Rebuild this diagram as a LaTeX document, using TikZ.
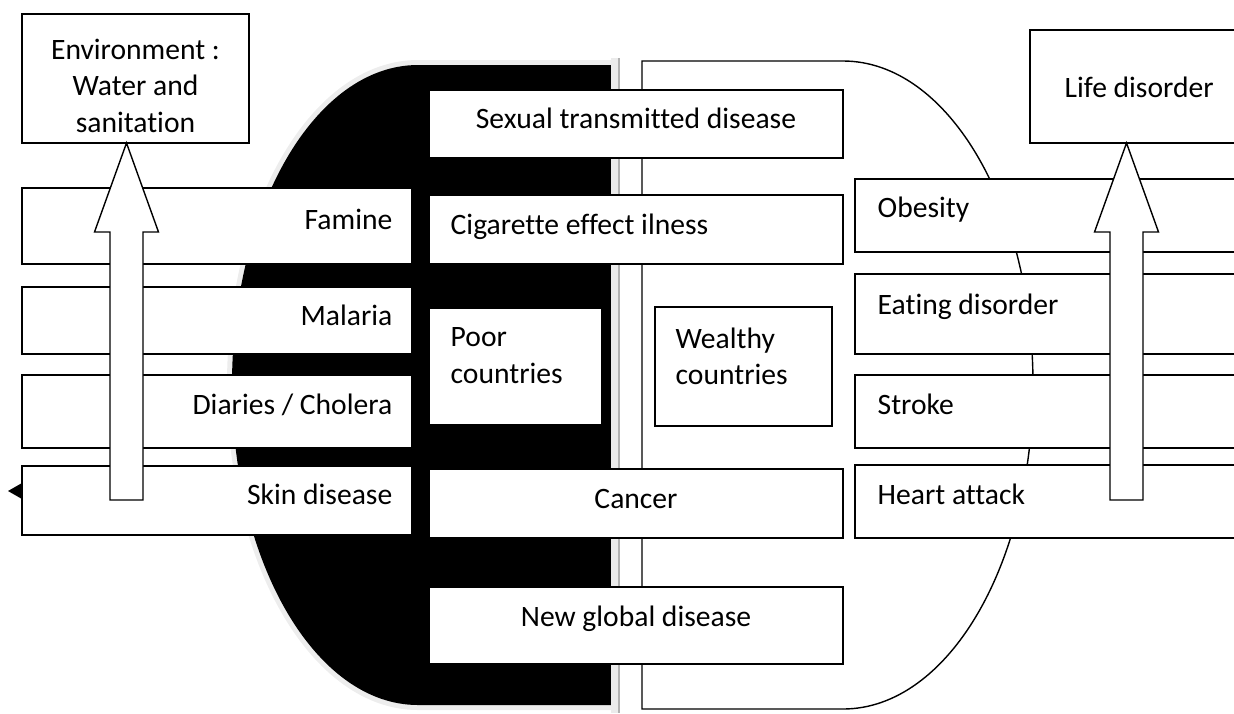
\documentclass[tikz,border=0pt]{standalone}
\usepackage{fontspec}
\setmainfont[Ligatures=NoCommon]{Carlito}
\usetikzlibrary{fit}
\newcommand{\boxcell}[6]{%
  \node[cell,fit={(#2) (#3)}] (#1) {};
  \node[#4] (#1-txt) at (#5) {#6};
}
\newcommand{\blockarrow}[2]{%
  \coordinate (#1) at (#2,143);
  \draw[fill=white] (#1) -- ++(32,89) -- ++(-15.5,0) -- ++(0,268) -- ++(-33,0)
    -- ++(0,-268) -- ++(-15.5,0) -- cycle;
}

\begin{document}
\begin{tikzpicture}[x=0.5pt,y=-0.5pt,line width=0.7pt,
  every node/.style={font=\fontsize{14.8}{18.3}\selectfont,inner sep=0pt},
  cell/.style={draw,fill=white}]
  \useasboundingbox (0,0) rectangle (1234,713);
  \clip (0,0) rectangle (1234,713);
  \draw[black!7,line width=5pt] (611,65) -- (418,65)
    arc[start angle=270,end angle=90,x radius=186,y radius=320] -- (611,705);
  \fill (611,65) -- (418,65)
    arc[start angle=270,end angle=90,x radius=186,y radius=320] -- (611,705) -- cycle;
  \fill[black!8] (611,58) rectangle (620,713);
  \draw[black!30] (619,58) -- (619,713);
  \draw (642,61) -- (843,61)
    arc[start angle=-90,end angle=90,x radius=190,y radius=324] -- (642,709) -- cycle;
  \fill (22,483) -- (8,491) -- (22,499) -- cycle;

  \boxcell{env}{22,14}{249,143}{anchor=north,align=center}{135.5,38}{Environment :\\Water and\\sanitation}
  \foreach \name/\ya/\yb/\yt/\txt in {famine/188/264/229/Famine,malaria/287/354/325/Malaria,
      cholera/375/448/414/{Diaries / Cholera},skin/466/535/504/{Skin disease}}
    {\boxcell{\name}{22,\ya}{412,\yb}{anchor=base east}{393,\yt}{\txt}}

  \boxcell{std}{429,90}{843,158}{anchor=base}{636,128}{Sexual transmitted disease}
  \boxcell{smoke}{429,195}{843,264}{anchor=base west}{450,234}{Cigarette effect ilness}
  \boxcell{poor}{429,308}{602,425}{anchor=north west,align=left}{450,327}{Poor\\countries}
  \boxcell{wealthy}{655,307}{832,426}{anchor=north west,align=left}{675,327}{Wealthy\\countries}
  \boxcell{cancer}{429,469}{843,538}{anchor=base}{636,508}{Cancer}
  \boxcell{newdis}{429,587}{843,664}{anchor=base}{636,626}{New global disease}

  \foreach \name/\ya/\yb/\yt/\txt in {obesity/179/252/217/Obesity,eating/274/354/314/{Eating disorder},
      stroke/375/448/414/Stroke,heart/465/538/504/{Heart attack}}
    {\boxcell{\name}{855,\ya}{1250,\yb}{anchor=base west}{877,\yt}{\txt}}
  \boxcell{life}{1030,30}{1245,143}{anchor=base west}{1064,97}{Life disorder}

  \blockarrow{envtip}{126.5}
  \blockarrow{lifetip}{1126.5}
\end{tikzpicture}
\end{document}
